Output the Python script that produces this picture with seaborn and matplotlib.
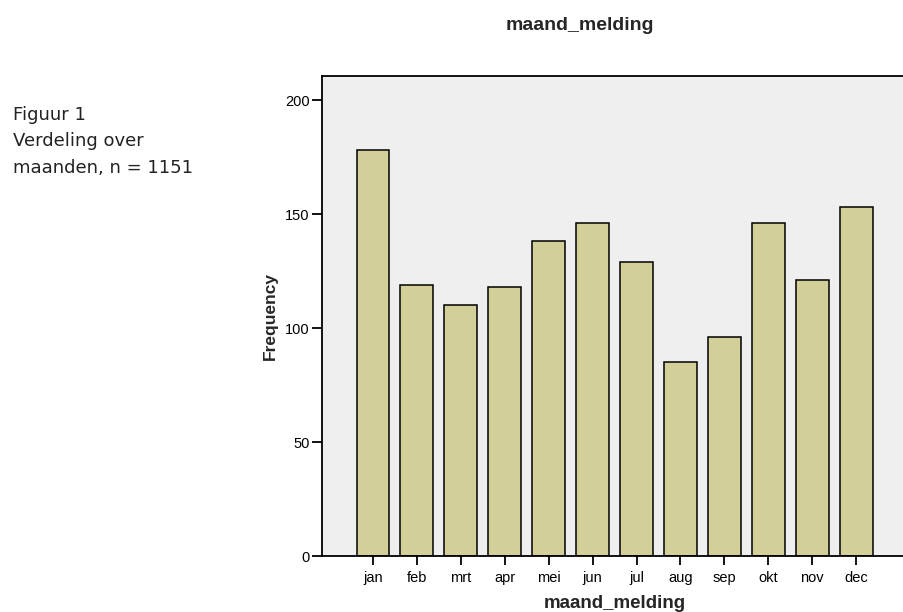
import matplotlib
matplotlib.use("Agg")
import matplotlib.pyplot as plt
import seaborn as sns
import pandas as pd

# data
maanden = ["jan", "feb", "mrt", "apr", "mei", "jun", "jul", "aug", "sep", "okt", "nov", "dec"]
frequenties = [178, 119, 110, 118, 138, 146, 129, 85, 96, 146, 121, 153]
y_ticks = [0, 50, 100, 150, 200]
titel = "maand_melding"
bijschrift = ["Figuur 1", "Verdeling over", "maanden, n = 1151"]

sns.set_style("ticks")
plt.rcParams['font.family'] = ['Liberation Sans', 'DejaVu Sans']

df = pd.DataFrame({"maand": maanden, "aantal": frequenties})

W, H = 904, 612
fig = plt.figure(figsize=(W / 100, H / 100), dpi=100)
ax = fig.add_axes([321.7 / W, 1 - 556 / H, 585.3 / W, 480.3 / H])
ax.set_facecolor("#EFEFEF")

sns.barplot(data=df, x="maand", y="aantal", color="#D3CF98", saturation=1,
            edgecolor="black", linewidth=1.1, width=0.75, ax=ax)

ax.set_xlim(-1.169, 12.16)
ax.set_ylim(0, 210.7)
ax.set_yticks(y_ticks)
ax.set_yticklabels([str(v) for v in y_ticks])

for side in ["left", "bottom", "top", "right"]:
    ax.spines[side].set_visible(True)
    ax.spines[side].set_linewidth(1.3)
    ax.spines[side].set_color("black")

ax.tick_params(axis="y", length=7.2, width=1.3, pad=1.5, labelsize=10.5, colors="black")
ax.tick_params(axis="x", length=6.5, width=1.3, pad=4, labelsize=10.5, colors="black")

ax.set_xlabel(titel, fontsize=13.5, fontweight="bold")
ax.xaxis.set_label_coords(0.5, -0.108)
ax.xaxis.label.set_va("baseline")
ax.set_ylabel("Frequency", fontsize=12.5, fontweight="bold")
ax.yaxis.set_label_coords(-0.0883, 0.5)
ax.yaxis.label.set_va("center")

fig.text(580 / W, 1 - 30 / H, titel, ha="center", va="baseline",
         fontsize=14, fontweight="bold")

for regel, basis in zip(bijschrift, [120, 146, 173]):
    fig.text(13 / W, 1 - basis / H, regel, ha="left", va="baseline",
             fontsize=13, family="DejaVu Sans", color="#222222")

fig.savefig("out.png", dpi=100)
